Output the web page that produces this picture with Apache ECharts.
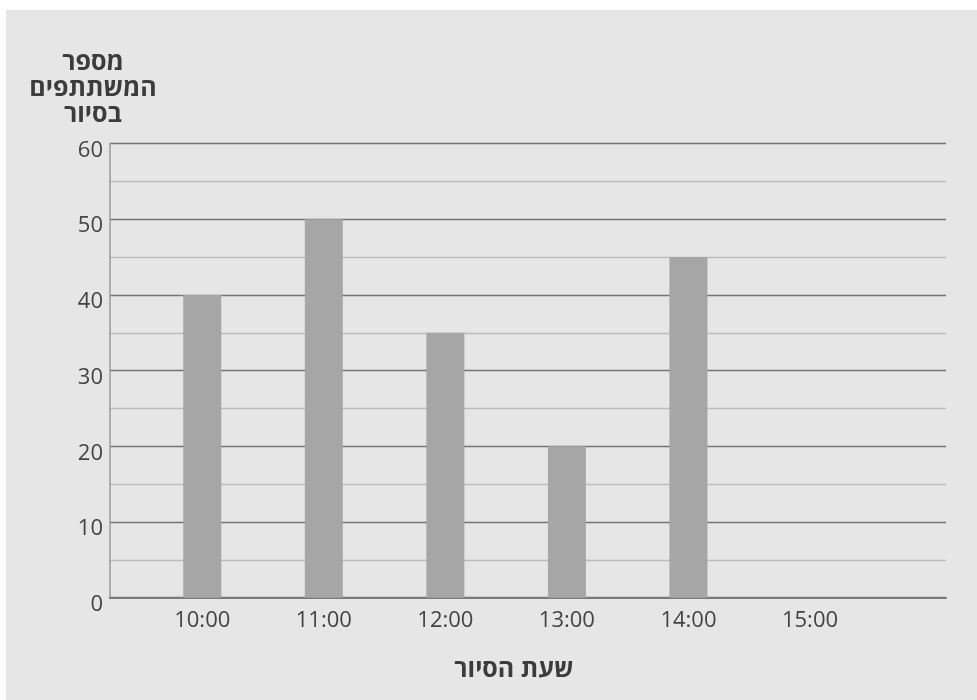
<!DOCTYPE html>
<html>
<head>
<meta charset="utf-8">
<script src="https://cdn.jsdelivr.net/npm/echarts@6/dist/echarts.min.js"></script>
<style>
  html, body { margin:0; padding:0; background:#ffffff; }
  #bg { position:absolute; left:6px; top:10px; width:971px; height:690px; background:#e6e6e6; }
  #c { position:absolute; left:0; top:0; width:977px; height:700px; }
</style>
</head>
<body>
<div id="bg"></div>
<div id="c"></div>
<script>
const categories = ['10:00', '11:00', '12:00', '13:00', '14:00', '15:00'];
const participants = [40, 50, 35, 20, 45];
const yTicks = [0, 10, 20, 30, 40, 50, 60];
const yTitle = 'מספר\nהמשתתפים\nבסיור';
const xTitle = 'שעת הסיור';

const FONT = '"Open Sans", "Liberation Sans", "DejaVu Sans", sans-serif';
const chart = echarts.init(document.getElementById('c'), null, { renderer: 'canvas' });

chart.setOption({
  backgroundColor: 'transparent',
  animation: false,
  title: [
    {
      text: yTitle,
      left: 88, top: 45, textAlign: 'center',
      textStyle: { fontFamily: FONT, fontSize: 25, fontWeight: 'bold', color: '#3c3c3c', lineHeight: 26, align: 'center' }
    },
    {
      text: xTitle,
      left: 509, top: 652, textAlign: 'center',
      textStyle: { fontFamily: FONT, fontSize: 25, fontWeight: 'bold', color: '#3c3c3c' }
    }
  ],
  grid: { left: 110, right: 31, top: 143.5, bottom: 102.3, containLabel: false },
  xAxis: {
    type: 'value',
    min: -0.759,
    max: 6.119,
    axisLine: { show: true, onZero: false, lineStyle: { color: '#7a7a7a', width: 2 } },
    axisTick: { show: false },
    splitLine: { show: false },
    axisLabel: {
      customValues: categories.map((c, i) => i),
      formatter: v => categories[Math.round(v)] || '',
      fontFamily: FONT, fontSize: 22, color: '#444', margin: 12
    }
  },
  yAxis: {
    type: 'value',
    min: yTicks[0],
    max: yTicks[yTicks.length - 1],
    interval: 10,
    axisLine: { show: true, onZero: false, lineStyle: { color: '#9a9a9a', width: 1.5 } },
    axisTick: { show: false },
    axisLabel: {
      fontFamily: FONT, fontSize: 22, color: '#444', margin: 7,
      formatter: v => '{a|' + v + '}',
      rich: { a: { fontFamily: FONT, fontSize: 22, color: '#444', padding: [14, 0, 0, 0] } }
    },
    splitLine: { show: true, lineStyle: { color: '#747474', width: 1.4 } },
    minorTick: { show: false, splitNumber: 2 },
    minorSplitLine: { show: true, lineStyle: { color: '#bdbdbd', width: 1.4 } }
  },
  series: [{
    type: 'bar',
    barWidth: 38,
    itemStyle: { color: '#a6a6a6' },
    data: participants.map((v, i) => [i, v]),
    z: 3
  }]
});
</script>
</body>
</html>
